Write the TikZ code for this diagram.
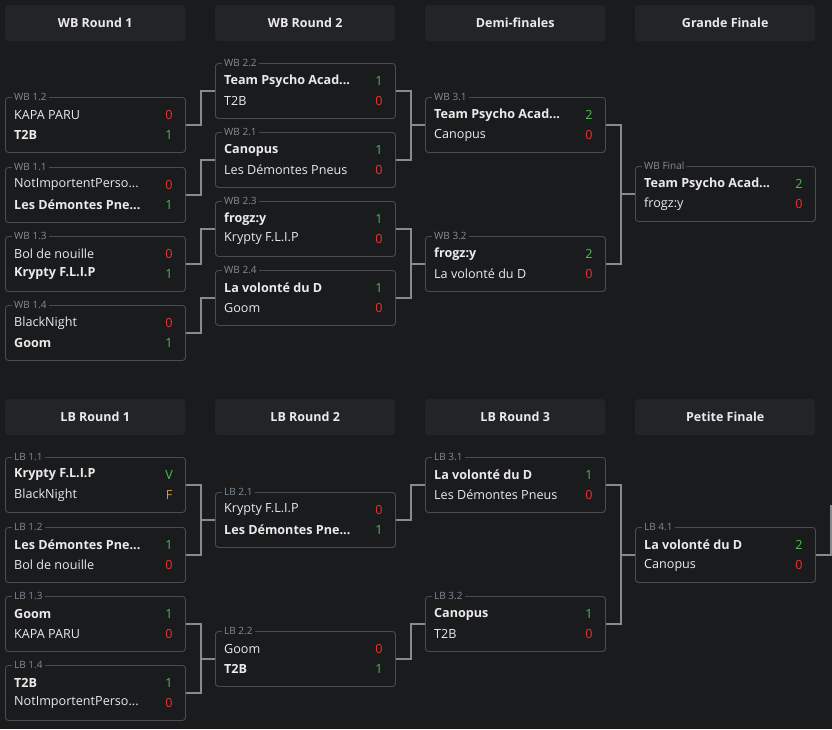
\documentclass[tikz,border=0pt]{standalone}
\usepackage{fontspec}
\setmainfont{Open Sans}
\definecolor{bg}{HTML}{1A1B1D}
\definecolor{hd}{HTML}{222427}
\definecolor{bd}{HTML}{4A4C50}
\definecolor{tx}{HTML}{EAEAEA}
\definecolor{lb}{HTML}{8C8C8C}
\definecolor{lbb}{HTML}{7F8C99}
\definecolor{win}{HTML}{4CBF50}
\definecolor{los}{HTML}{F03030}
\definecolor{fo}{HTML}{D09A40}
\definecolor{ln}{HTML}{8A8A8A}
\tikzset{
 box/.style={draw=bd,line width=0.9pt,rounded corners=3pt,minimum width=180pt,minimum height=55pt,anchor=north west,inner sep=0pt},
 head/.style={fill=hd,rounded corners=3pt,minimum width=180pt,minimum height=36pt,anchor=north west,text=tx,font=\fontsize{12.5}{14}\selectfont\bfseries},
 mlab/.style={fill=bg,anchor=west,inner sep=2pt,font=\fontsize{10}{11}\selectfont},
 team/.style={anchor=west,text=tx,inner sep=0pt,font=\fontsize{12.6}{14}\selectfont},
 score/.style={inner sep=0pt,font=\fontsize{12.6}{14}\selectfont},
 con/.style={draw=ln,line width=1.3pt}
}
\newcommand{\mt}[9]{%
 \node[box] (#1) at (#2,#3) {};
 \node[mlab,text=#4] (#1l) at (#2+7,#3) {#5};
 \node[team] (#1a) at (#2+9,#3+18) {#6};
 \node[team] (#1b) at (#2+9,#3+38) {#8};
 \node[score] (#1s) at (#2+164,#3+18) {#7};
 \node[score] (#1t) at (#2+164,#3+38) {#9};
}
\newcommand{\W}[1]{\textcolor{win}{#1}}
\newcommand{\Lo}[1]{\textcolor{los}{#1}}
\begin{document}
\begin{tikzpicture}[x=1pt,y=-1pt]
\fill[bg] (0,0) rectangle (832,729);
\useasboundingbox (0,0) rectangle (832,729);
\node[head] (h1) at (5,5) {WB Round 1};
\node[head] (h2) at (215,5) {WB Round 2};
\node[head] (h3) at (425,5) {Demi-finales};
\node[head] (h4) at (635,5) {Grande Finale};
\node[head] (h5) at (5,399) {LB Round 1};
\node[head] (h6) at (215,399) {LB Round 2};
\node[head] (h7) at (425,399) {LB Round 3};
\node[head] (h8) at (635,399) {Petite Finale};
% WB
\mt{wbA}{5}{97}{lb}{WB 1.2}{KAPA PARU}{\Lo{0}}{\bfseries T2B}{\W{1}}
\mt{wbB}{5}{167}{lb}{WB 1.1}{NotImportentPerso...}{\Lo{0}}{\bfseries Les Démontes Pne...}{\W{1}}
\mt{wbC}{5}{236}{lb}{WB 1.3}{Bol de nouille}{\Lo{0}}{\bfseries Krypty F.L.I.P}{\W{1}}
\mt{wbD}{5}{305}{lb}{WB 1.4}{BlackNight}{\Lo{0}}{\bfseries Goom}{\W{1}}
\mt{wbE}{215}{63}{lb}{WB 2.2}{\bfseries Team Psycho Acad...}{\W{1}}{T2B}{\Lo{0}}
\mt{wbF}{215}{132}{lb}{WB 2.1}{\bfseries Canopus}{\W{1}}{Les Démontes Pneus}{\Lo{0}}
\mt{wbG}{215}{201}{lb}{WB 2.3}{\bfseries frogz:y}{\W{1}}{Krypty F.L.I.P}{\Lo{0}}
\mt{wbH}{215}{270}{lb}{WB 2.4}{\bfseries La volonté du D}{\W{1}}{Goom}{\Lo{0}}
\mt{wbI}{425}{97}{lb}{WB 3.1}{\bfseries Team Psycho Acad...}{\W{2}}{Canopus}{\Lo{0}}
\mt{wbJ}{425}{236}{lb}{WB 3.2}{\bfseries frogz:y}{\W{2}}{La volonté du D}{\Lo{0}}
\mt{wbK}{635}{166}{lb}{WB Final}{\bfseries Team Psycho Acad...}{\W{2}}{frogz:y}{\Lo{0}}
% LB
\mt{lbA}{5}{457}{lbb}{LB 1.1}{\bfseries Krypty F.L.I.P}{\W{V}}{BlackNight}{\textcolor{fo}{F}}
\mt{lbB}{5}{527}{lbb}{LB 1.2}{\bfseries Les Démontes Pne...}{\W{1}}{Bol de nouille}{\Lo{0}}
\mt{lbC}{5}{596}{lbb}{LB 1.3}{\bfseries Goom}{\W{1}}{KAPA PARU}{\Lo{0}}
\mt{lbD}{5}{665}{lbb}{LB 1.4}{\bfseries T2B}{\W{1}}{NotImportentPerso...}{\Lo{0}}
\mt{lbE}{215}{492}{lbb}{LB 2.1}{Krypty F.L.I.P}{\Lo{0}}{\bfseries Les Démontes Pne...}{\W{1}}
\mt{lbF}{215}{631}{lbb}{LB 2.2}{Goom}{\Lo{0}}{\bfseries T2B}{\W{1}}
\mt{lbG}{425}{457}{lbb}{LB 3.1}{\bfseries La volonté du D}{\W{1}}{Les Démontes Pneus}{\Lo{0}}
\mt{lbH}{425}{596}{lbb}{LB 3.2}{\bfseries Canopus}{\W{1}}{T2B}{\Lo{0}}
\mt{lbI}{635}{527}{lbb}{LB 4.1}{\bfseries La volonté du D}{\W{2}}{Canopus}{\Lo{0}}
% connectors
\foreach \a/\b in {wbA/wbE,wbB/wbF,wbC/wbG,wbD/wbH,wbE/wbI,wbF/wbI,wbG/wbJ,wbH/wbJ,wbI/wbK,wbJ/wbK,
 lbA/lbE,lbB/lbE,lbC/lbF,lbD/lbF,lbE/lbG,lbF/lbH,lbG/lbI,lbH/lbI}
 \draw[con] (\a.east) -- ++(15,0) |- (\b.west);
\coordinate (edge) at (834,506);
\draw[con] (lbI.east) -- ++(15,0) |- (edge);
\end{tikzpicture}
\end{document}
